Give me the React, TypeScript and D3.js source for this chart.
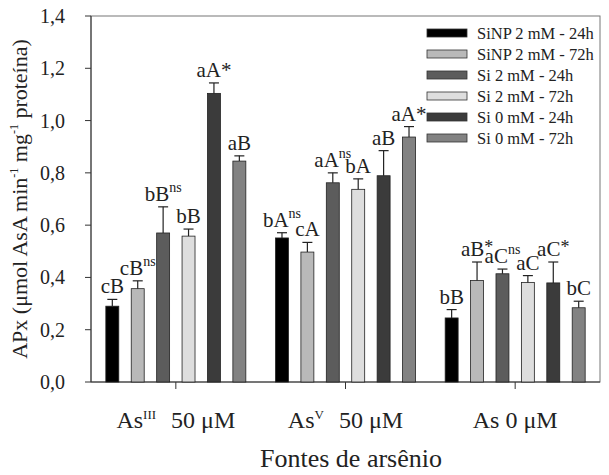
import React from 'react'
import * as d3 from 'd3'

const groups = ['AsIII', 'AsV', 'As0']
const series = ['SiNP 2 mM - 24h', 'SiNP 2 mM - 72h', 'Si 2 mM - 24h', 'Si 2 mM - 72h', 'Si 0 mM - 24h', 'Si 0 mM - 72h']
const colors = ['#000000', '#b9b9b9', '#5c5c5c', '#dedede', '#3b3b3b', '#828282']

// values per group, one per series
const means = [
  [0.29, 0.357, 0.57, 0.558, 1.104, 0.845],
  [0.551, 0.497, 0.762, 0.737, 0.789, 0.937],
  [0.245, 0.388, 0.414, 0.381, 0.379, 0.284]
]
const errors = [
  [0.026, 0.03, 0.1, 0.027, 0.04, 0.02],
  [0.02, 0.037, 0.038, 0.04, 0.096, 0.04],
  [0.032, 0.071, 0.018, 0.026, 0.08, 0.025]
]
// letter, superscript
const letters = [
  [['cB', ''], ['cB', 'ns'], ['bB', 'ns'], ['bB', ''], ['aA*', ''], ['aB', '']],
  [['bA', 'ns'], ['cA', ''], ['aA', 'ns'], ['bA', ''], ['aB', ''], ['aA*', '']],
  [['bB', ''], ['aB', '*'], ['aC', 'ns'], ['aC', ''], ['aC', '*'], ['bC', '']]
]
const yTicks = [0, 0.2, 0.4, 0.6, 0.8, 1.0, 1.2, 1.4]

const W = 609
const H = 475
const m = { left: 91, right: 9, top: 16, bottom: 93 }
const font = "'Liberation Serif', 'Times New Roman', serif"

const App = () => {
  const x0 = d3.scaleBand().domain(groups).range([m.left, W - m.right]).padding(0)
  const bw = x0.bandwidth()
  const x1 = d3.scaleBand().domain(series).range([bw / 2 - 70, bw / 2 + 70]).paddingInner(0.49).paddingOuter(0)
  const y = d3.scaleLinear().domain([0, 1.4]).range([H - m.bottom, m.top])
  const fmt = (v) => d3.format('.1f')(v).replace('.', ',')

  const catLabel = (g) => {
    if (g === 'AsIII') return (<>As<tspan fontSize={13} dy={-9}>III</tspan><tspan dy={9} dx={15}>50 μM</tspan></>)
    if (g === 'AsV') return (<>As<tspan fontSize={13} dy={-9}>V</tspan><tspan dy={9} dx={15}>50 μM</tspan></>)
    return 'As 0 μM'
  }

  return (
    <div style={{ position: 'absolute', left: 0, top: 0 }}>
      <svg width={W} height={H} style={{ display: 'block', background: '#fff', fontFamily: font }}>
        {/* frame */}
        <rect x={m.left} y={m.top} width={W - m.left - m.right} height={H - m.top - m.bottom} fill='none' stroke='#777' strokeWidth={1} />
        <line x1={m.left} x2={W - m.right} y1={y(0)} y2={y(0)} stroke='#333' />
        <line x1={m.left} x2={m.left} y1={y(0)} y2={y(1.4)} stroke='#333' />

        {/* y axis */}
        {yTicks.map((t) => (
          <g key={t}>
            <line x1={m.left - 6} x2={m.left} y1={y(t)} y2={y(t)} stroke='#333' />
            <text x={65} y={y(t)} dy='0.35em' textAnchor='end' fontSize={20} fill='#222'>{fmt(t)}</text>
          </g>
        ))}
        <text transform={`translate(27,${(y(0) + y(1.4)) / 2}) rotate(-90)`} textAnchor='middle' fontSize={22} fill='#222'>
          APx (μmol AsA min<tspan fontSize={12} dy={-9}>-1</tspan><tspan dy={9}> mg</tspan><tspan fontSize={12} dy={-9}>-1</tspan><tspan dy={9}> proteína)</tspan>
        </text>

        {/* x axis */}
        {groups.map((g) => (
          <g key={g}>
            <line x1={x0(g) + bw / 2} x2={x0(g) + bw / 2} y1={y(0)} y2={y(0) + 7} stroke='#333' />
            <text x={x0(g) + bw / 2} y={428} textAnchor='middle' fontSize={24} fill='#222'>{catLabel(g)}</text>
          </g>
        ))}
        <text x={351} y={467} textAnchor='middle' fontSize={26} fill='#222'>Fontes de arsênio</text>

        {/* bars */}
        {groups.map((g, gi) => (
          <g key={g} transform={`translate(${x0(g)},0)`}>
            {series.map((s, si) => {
              const v = means[gi][si]
              const e = errors[gi][si]
              const cx = x1(s) + x1.bandwidth() / 2
              const [lab, sup] = letters[gi][si]
              return (
                <g key={s}>
                  <rect x={x1(s)} y={y(v)} width={x1.bandwidth()} height={y(0) - y(v)} fill={colors[si]} stroke='#222' strokeWidth={0.8} />
                  <line x1={cx} x2={cx} y1={y(v)} y2={y(v + e)} stroke='#222' strokeWidth={1.2} />
                  <line x1={cx - 5} x2={cx + 5} y1={y(v + e)} y2={y(v + e)} stroke='#222' strokeWidth={1.2} />
                  <text x={cx} y={y(v + e) - 6} textAnchor='middle' fontSize={21} fill='#222'>
                    {lab}{sup && <tspan fontSize={sup === '*' ? 18 : 14} dy={sup === '*' ? -3 : -9}>{sup}</tspan>}
                  </text>
                </g>
              )
            })}
          </g>
        ))}

        {/* legend */}
        {series.map((s, i) => (
          <g key={s} transform={`translate(427,${29 + i * 21})`}>
            <rect width={40} height={8} fill={colors[i]} stroke='#333' strokeWidth={0.8} />
            <text x={50} y={9.5} fontSize={16.5} fill='#222'>{s}</text>
          </g>
        ))}
      </svg>
    </div>
  )
}

export default App
